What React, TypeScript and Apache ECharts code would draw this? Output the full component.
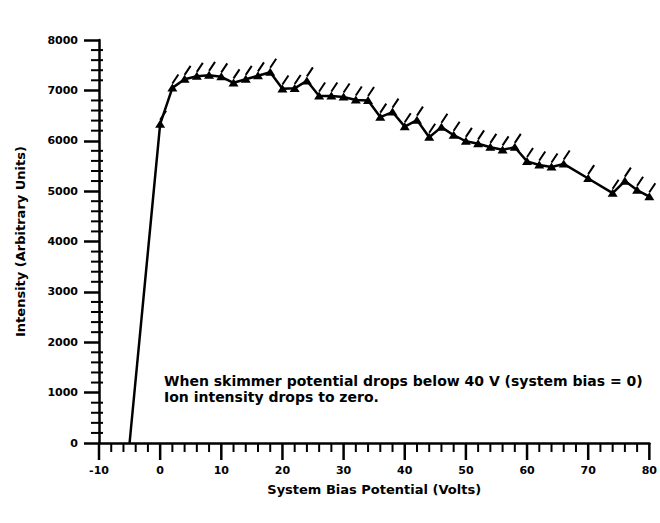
import React, { useEffect, useRef } from "react";
import * as echarts from "echarts";

const biasVolts = [-5, 0, 2, 4, 6, 8, 10, 12, 14, 16, 18, 20, 22, 24, 26, 28, 30, 32, 34, 36, 38, 40, 42, 44, 46, 48, 50, 52, 54, 56, 58, 60, 62, 64, 66, 70, 74, 76, 78, 80];
const intensity = [0, 6330, 7050, 7220, 7280, 7300, 7270, 7150, 7220, 7290, 7360, 7030, 7040, 7190, 6890, 6890, 6870, 6810, 6800, 6470, 6570, 6280, 6410, 6070, 6270, 6110, 5990, 5940, 5870, 5820, 5870, 5590, 5520, 5480, 5540, 5250, 4960, 5200, 5020, 4890];
const xMajorTicks = [-10, 0, 10, 20, 30, 40, 50, 60, 70, 80];
const yMajorTicks = [0, 1000, 2000, 3000, 4000, 5000, 6000, 7000, 8000];
const minorPerMajor = 5;
const xTitle = "System Bias Potential (Volts)";
const yTitle = "Intensity (Arbitrary Units)";
const noteLines = [
  "When skimmer potential drops below 40 V (system bias = 0)",
  "Ion intensity drops to zero.",
];

const FONT = '"DejaVu Sans", "Liberation Sans", Arial, sans-serif';
const markerPath =
  "path://M0 17.55 L10 17.55 L5 9.55 Z M5.83 10.1 L4.17 9 L10.17 0 L11.83 1.1 Z";

// tick records: [value, kind] kind 0 = x major, 1 = x minor, 2 = y minor
function buildTicks(): number[][] {
  const out: number[][] = [];
  xMajorTicks.forEach((t, i) => {
    out.push([t, 0]);
    if (i < xMajorTicks.length - 1) {
      const step = (xMajorTicks[i + 1] - t) / minorPerMajor;
      for (let k = 1; k < minorPerMajor; k++) out.push([t + k * step, 1]);
    }
  });
  yMajorTicks.forEach((t, i) => {
    if (i < yMajorTicks.length - 1) {
      const step = (yMajorTicks[i + 1] - t) / minorPerMajor;
      for (let k = 1; k < minorPerMajor; k++) out.push([t + k * step, 2]);
    }
  });
  return out;
}

export default function App() {
  const ref = useRef<HTMLDivElement>(null);
  useEffect(() => {
    document.body.style.margin = "0";
    const chart = echarts.init(ref.current!, null, { renderer: "svg" });
    const data: any[] = biasVolts.map((v, i) =>
      i === 0 ? { value: [v, intensity[i]], symbol: "none" } : [v, intensity[i]]
    );
    const xMin = xMajorTicks[0];
    const xMax = xMajorTicks[xMajorTicks.length - 1];
    const yMin = yMajorTicks[0];
    const yMax = yMajorTicks[yMajorTicks.length - 1];
    const notes = noteLines.map((t, i) => ({
      type: "text",
      left: 164,
      top: 374 + i * 16,
      z: 100,
      style: {
        text: t,
        font: `bold 14px ${FONT}`,
        fill: "#000",
      },
    }));
    chart.setOption({
      animation: false,
      backgroundColor: "#ffffff",
      grid: { left: 99, right: 9, top: 40, bottom: 80, containLabel: false },
      xAxis: {
        type: "value",
        position: "bottom",
        min: xMin,
        max: xMax,
        interval: 10,
        name: xTitle,
        nameLocation: "middle",
        nameGap: 40,
        nameTextStyle: { fontFamily: FONT, fontWeight: "bold", fontSize: 13, color: "#000" },
        axisLine: { show: true, onZero: false, lineStyle: { color: "#000", width: 2.5 } },
        axisTick: { show: false },
        minorTick: { show: false },
        axisLabel: {
          margin: 22,
          fontFamily: FONT,
          fontWeight: "bold",
          fontSize: 11,
          color: "#000",
        },
        splitLine: { show: false },
      },
      yAxis: {
        type: "value",
        min: yMin,
        max: yMax,
        interval: 1000,
        name: yTitle,
        nameLocation: "middle",
        nameGap: 72,
        nameRotate: 90,
        nameTextStyle: { fontFamily: FONT, fontWeight: "bold", fontSize: 13, color: "#000" },
        axisLine: { show: true, onZero: false, lineStyle: { color: "#000", width: 2.5 } },
        axisTick: { show: true, length: 15, lineStyle: { color: "#000", width: 2.5 } },
        minorTick: { show: false },
        axisLabel: {
          margin: 21,
          fontFamily: FONT,
          fontWeight: "bold",
          fontSize: 11,
          color: "#000",
          formatter: (v: number) => String(v),
        },
        splitLine: { show: false },
      },
      graphic: notes,
      series: [
        {
          type: "line",
          data,
          symbol: markerPath,
          symbolSize: [11.83, 17.55],
          symbolOffset: [0.9, -5.2],
          showSymbol: true,
          lineStyle: { color: "#000", width: 2.5 },
          itemStyle: { color: "#000" },
        },
      ],
    });

    // tick marks placed through the chart's own scales
    const tickEls: any[] = buildTicks().map(([v, kind]) => {
      if (kind === 2) {
        const p = chart.convertToPixel({ gridIndex: 0 }, [xMin, v]) as number[];
        return {
          type: "rect",
          z: 100,
          silent: true,
          shape: { x: p[0] - 8, y: p[1] - 1, width: 12, height: 2 },
          style: { fill: "#000" },
        };
      }
      const p = chart.convertToPixel({ gridIndex: 0 }, [v, yMin]) as number[];
      const len = kind === 0 ? 17 : 9;
      const w = kind === 0 ? 2.5 : 2;
      return {
        type: "rect",
        z: 100,
        silent: true,
        shape: { x: p[0] - w / 2, y: p[1], width: w, height: len },
        style: { fill: "#000" },
      };
    });
    chart.setOption({ graphic: [...notes, ...tickEls] });

    return () => chart.dispose();
  }, []);
  return <div ref={ref} style={{ width: 660, height: 523 }} />;
}
